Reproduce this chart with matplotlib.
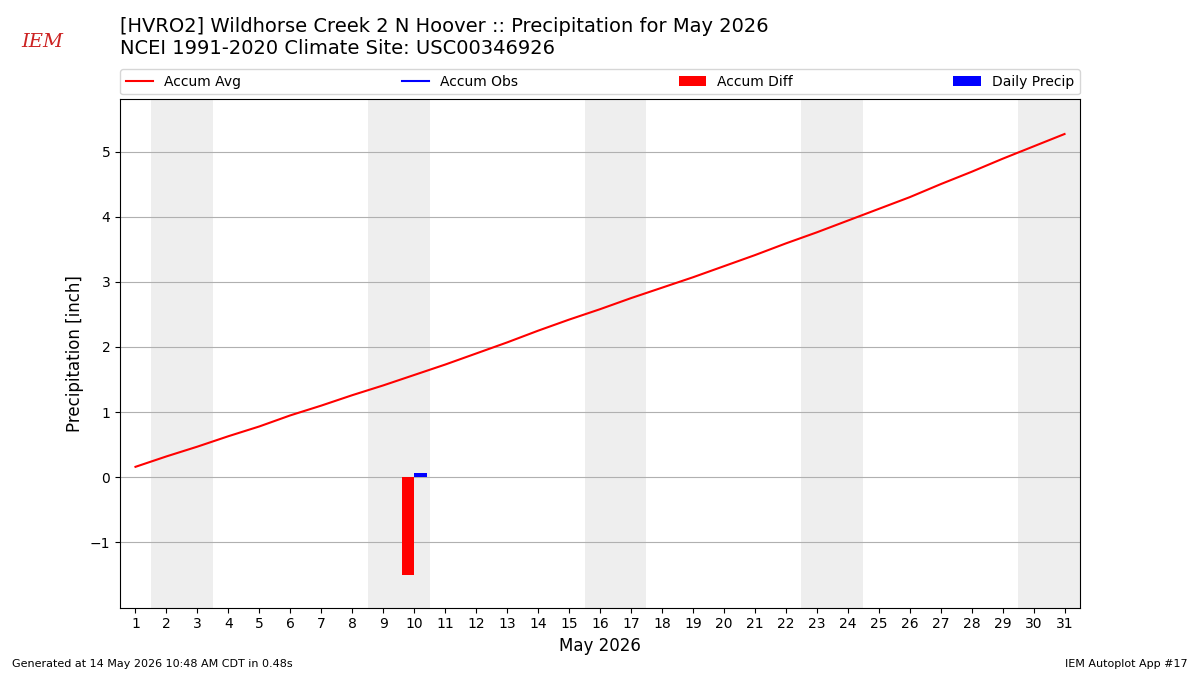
import matplotlib
matplotlib.use("Agg")
import matplotlib.pyplot as plt
import numpy as np

days = list(range(1, 32))
accum_avg = [0.16,0.32,0.47,0.63,0.78,0.95,1.10,1.26,1.41,1.57,1.73,1.90,2.07,2.25,2.42,
             2.58,2.75,2.91,3.07,3.24,3.41,3.59,3.76,3.94,4.12,4.30,4.50,4.69,4.89,5.08,5.27]
obs_days = [10]
daily_precip = [0.07]
accum_obs = [0.07]
accum_diff = [-1.50]
weekends = [2,3,9,10,16,17,23,24,30,31]

fig = plt.figure(figsize=(12, 6.75), dpi=100)
ax = fig.add_axes([0.1, 0.1, 0.8, 0.7526])
for d in weekends:
    ax.axvspan(d-0.5, d+0.5, color="#eeeeee", lw=0, zorder=0)
ax.plot(days, accum_avg, color="red", label="Accum Avg", zorder=3)
ax.plot(obs_days, accum_obs, color="blue", label="Accum Obs", zorder=3)
ax.bar(np.array(obs_days)-0.2, accum_diff, width=0.4, color="red", label="Accum Diff", zorder=2)
ax.bar(np.array(obs_days)+0.2, daily_precip, width=0.4, color="blue", label="Daily Precip", zorder=2)
ax.set_xlim(0.5, 31.5)
ax.set_ylim(-2, 5.8)
ax.set_xticks(days)
ax.set_yticks([-1,0,1,2,3,4,5])
ax.yaxis.grid(True, color="#b0b0b0")
ax.set_axisbelow(True)
ax.set_xlabel("May 2026", fontsize=12)
ax.set_ylabel("Precipitation [inch]", fontsize=12)
ax.legend(loc="lower left", bbox_to_anchor=(0, 1.01, 1, 0.05), ncol=4, mode="expand", borderaxespad=0)
fig.text(0.1, 0.945, "[HVRO2] Wildhorse Creek 2 N Hoover :: Precipitation for May 2026\nNCEI 1991-2020 Climate Site: USC00346926",
         fontsize=14, va="center")
fig.text(0.018, 0.93, "IEM", color="#cc2222", fontsize=14, family="DejaVu Serif", style="italic")
fig.text(0.01, 0.012, "Generated at 14 May 2026 10:48 AM CDT in 0.48s", fontsize=8)
fig.text(0.99, 0.012, "IEM Autoplot App #17", fontsize=8, ha="right")
fig.savefig("out.png")
